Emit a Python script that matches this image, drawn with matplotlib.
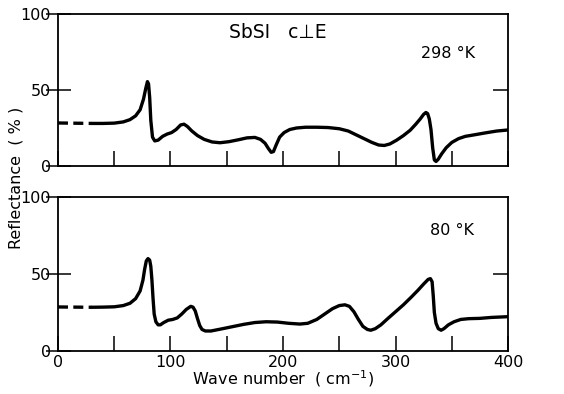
import matplotlib
matplotlib.use("Agg")
import matplotlib.pyplot as plt

# ---- data ----
dash_x = [0, 30]
dash_top = [28.3, 28.0]
dash_bot = [28.6, 28.4]

x_298 = [30, 40, 50, 58, 64, 69, 73, 76, 78, 79.5, 80.5, 81.5, 82.5, 84, 86, 89, 93, 97, 101,
         105, 109, 112, 115, 119, 124, 130, 137, 144, 152, 160, 168, 175, 180, 184, 187, 189.5,
         191.5, 194, 197, 201, 206, 212, 220, 230, 240, 250, 258, 265, 272, 279, 285, 290, 295,
         301, 307, 313, 318, 322, 325, 327, 328.5, 330, 331.5, 333, 334.5, 336, 338, 341, 345,
         350, 356, 362, 370, 380, 390, 400]
r_298 = [28, 28, 28.2, 29, 30.5, 33, 37, 44, 51, 55.5, 54, 45, 30, 19, 16.5, 17, 19.5, 21, 22,
         24, 27, 27.5, 26, 23, 20, 17.5, 15.8, 15.3, 16, 17.2, 18.5, 18.8, 17.5, 15, 11.5, 9,
         9.5, 14, 19, 22, 24, 25, 25.5, 25.5, 25.3, 24.5, 23, 20.5, 18, 15.5, 13.8, 13.5, 14.5,
         17, 20, 23.5, 27.5, 31, 34, 35.2, 34.5, 31, 24, 12, 4, 3, 4.5, 8, 12,
         15.5, 18, 19.5, 20.5, 21.8, 23, 23.7]

x_80 = [30, 40, 50, 58, 64, 69, 73, 75.5, 77, 78.5, 80, 81.5, 82.5, 83.5, 84.5, 85.5, 87, 89, 91,
        94, 98, 102, 106, 110, 114, 118, 120, 122, 124, 126, 128, 131, 136, 145, 155, 165, 175,
        185, 195, 205, 215, 222, 230, 237, 244, 250, 255, 259, 263, 267, 271, 275, 278, 282, 287,
        293, 300, 307, 314, 320, 325, 329, 331, 332.5, 333.5, 334.5, 336, 338, 340.5, 343, 347,
        352, 358, 365, 375, 385, 400]
r_80 = [28.4, 28.5, 28.7, 29.5, 31, 34, 39, 46, 53, 58.5, 60, 59, 55, 46, 34, 24, 19, 17, 17,
        18.5, 20, 20.5, 21.5, 24, 27, 29, 28.5, 26, 21, 16.5, 14, 13, 13, 14.3, 15.8, 17.3, 18.5,
        19, 18.8, 18, 17.5, 18, 20.5, 24, 27.5, 29.5, 30, 29, 25.5, 20.5, 16, 14, 13.5, 14.5, 17,
        21, 25.5, 30, 35, 39.5, 43.5, 46.5, 47, 45, 36, 25, 18, 14.5, 13.5, 14.5, 17,
        19, 20.5, 21, 21.2, 21.8, 22.3]

x_ticks = [0, 50, 100, 150, 200, 250, 300, 350, 400]
x_labels = ["0", "", "100", "", "200", "", "300", "", "400"]
y_ticks = [0, 50, 100]
y_labels = ["0", "50", "100"]

FONT = ["DejaVu Sans"]
plt.rcParams["font.family"] = FONT

fig = plt.figure(figsize=(5.64, 3.94), dpi=100)
ax1 = fig.add_axes([0.1028, 0.5787, 0.798, 0.3858])
ax2 = fig.add_axes([0.1028, 0.1091, 0.798, 0.3909])

lw = 2.4
for ax, xs, rs, dy, lab, lab_pos in [
        (ax1, x_298, r_298, dash_top, "298 °K", (347, 74)),
        (ax2, x_80, r_80, dash_bot, "80 °K", (350, 78))]:
    ax.plot(xs, rs, color="black", lw=lw, solid_joinstyle="round", solid_capstyle="round")
    ax.plot(dash_x, dy, color="black", lw=lw, linestyle=(0, (3, 1.6)))
    ax.set_xlim(0, 400)
    ax.set_ylim(0, 100)
    for s in ax.spines.values():
        s.set_linewidth(1.3)
    ax.set_xticks(x_ticks)
    ax.tick_params(axis="x", direction="in", length=11, width=1.1, pad=3, labelsize=11.5)
    ax.set_yticks(y_ticks)
    ax.set_yticklabels(y_labels)
    ax.tick_params(axis="y", direction="inout", length=18, width=1.1, pad=-4, labelsize=11.5)
    twin = ax.twinx()
    twin.set_ylim(0, 100)
    twin.set_yticks([50])
    twin.tick_params(axis="y", direction="in", length=11, width=1.1, labelright=False)
    for s in twin.spines.values():
        s.set_visible(False)
    ax.text(lab_pos[0], lab_pos[1], lab, ha="center", va="center", fontsize=11.5)

ax1.set_xticklabels([])
ax2.set_xticklabels(x_labels)
ax1.text(195, 88, "SbSI   c\u22a5E", ha="center", va="center", fontsize=13.5)

ax2.set_xlabel("Wave number  ( cm$^{-1}$)", fontsize=11.5, labelpad=-1)
fig.text(0.028, 0.548, "Reflectance  ( % )", rotation=90, ha="center", va="center", fontsize=11.5)

fig.savefig("out.png", dpi=100, facecolor="white")
